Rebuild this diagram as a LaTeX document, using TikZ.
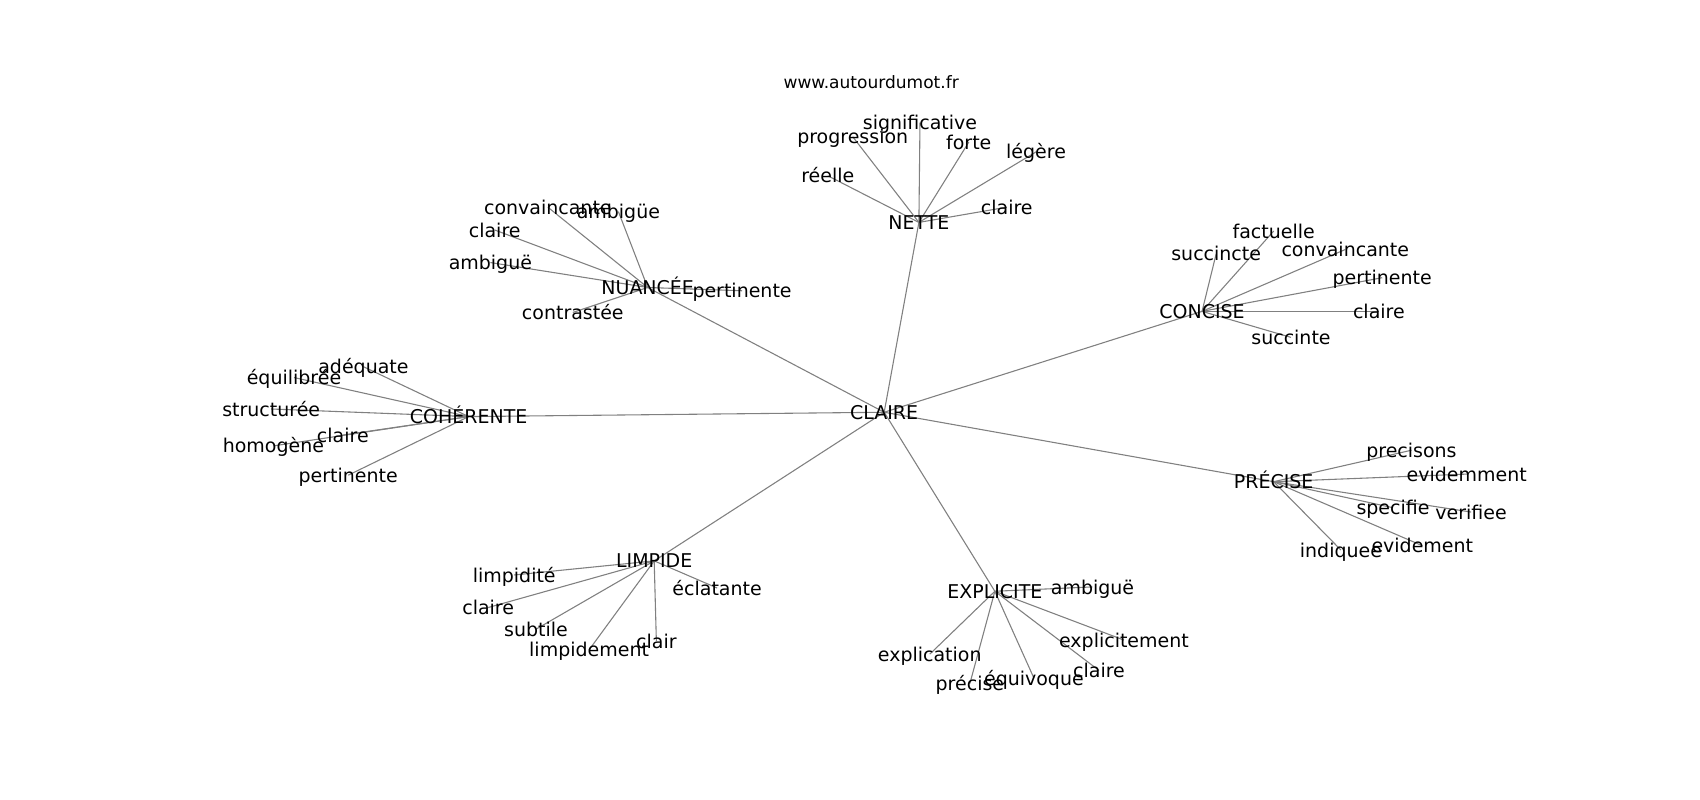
\documentclass[tikz,border=0pt]{standalone}
\usepackage{fontspec}
\setmainfont{DejaVu Sans}
\usetikzlibrary{backgrounds}
\tikzset{
  lbl/.style={inner sep=0pt, outer sep=0pt, anchor=center, text height=7.65pt, text depth=1.1pt, font=\fontsize{8.75}{10}\selectfont, text=black},
  ttl/.style={inner sep=0pt, anchor=center, font=\fontsize{7.85}{9}\selectfont, text=black},
  edge/.style={draw=black!50, line width=0.5pt}
}
\begin{document}
\begin{tikzpicture}[x=0.5pt, y=-0.5pt]
\useasboundingbox (0,0) rectangle (1567,737);
\node[ttl] (title) at (803,76) {www.autourdumot.fr};
% centre
\node[lbl] (c) at (815,380) {CLAIRE};
% NETTE
\node[lbl] (n) at (847,205) {NETTE};
\node[lbl] (n1) at (763,162) {réelle};
\node[lbl] (n2) at (786,126) {progression};
\node[lbl] (n3) at (848,113) {significative};
\node[lbl] (n4) at (893,131) {forte};
\node[lbl] (n5) at (955,140) {légère};
\node[lbl] (n6) at (928,191) {claire};
% NUANCEE
\node[lbl] (u) at (597,265) {NUANCÉE};
\node[lbl] (u1) at (505,191) {convaincante};
\node[lbl] (u2) at (570,195) {ambigüe};
\node[lbl] (u3) at (456,212) {claire};
\node[lbl] (u4) at (452,242) {ambiguë};
\node[lbl] (u5) at (684,268) {pertinente};
\node[lbl] (u6) at (528,288) {contrastée};
% CONCISE
\node[lbl] (k) at (1108,287) {CONCISE};
\node[lbl] (k1) at (1174,213) {factuelle};
\node[lbl] (k2) at (1121,234) {succincte};
\node[lbl] (k3) at (1240,230) {convaincante};
\node[lbl] (k4) at (1274,256) {pertinente};
\node[lbl] (k5) at (1271,287) {claire};
\node[lbl] (k6) at (1190,311) {succinte};
% COHERENTE
\node[lbl] (h) at (432,384) {COHÉRENTE};
\node[lbl] (h1) at (335,338) {adéquate};
\node[lbl] (h2) at (271,348) {équilibrée};
\node[lbl] (h3) at (250,377) {structurée};
\node[lbl] (h4) at (316,401) {claire};
\node[lbl] (h5) at (252,411) {homogène};
\node[lbl] (h6) at (321,438) {pertinente};
% PRECISE
\node[lbl] (p) at (1174,444) {PRÉCISE};
\node[lbl] (p1) at (1301,415) {precisons};
\node[lbl] (p2) at (1352,437) {evidemment};
\node[lbl] (p3) at (1284,468) {specifie};
\node[lbl] (p4) at (1356,472) {verifiee};
\node[lbl] (p5) at (1311,503) {evidement};
\node[lbl] (p6) at (1236,507) {indiquee};
% LIMPIDE
\node[lbl] (l) at (603,517) {LIMPIDE};
\node[lbl] (l1) at (474,530) {limpidité};
\node[lbl] (l2) at (450,560) {claire};
\node[lbl] (l3) at (494,580) {subtile};
\node[lbl] (l4) at (543,599) {limpidement};
\node[lbl] (l5) at (605,591) {clair};
\node[lbl] (l6) at (661,542) {éclatante};
% EXPLICITE
\node[lbl] (e) at (917,545) {EXPLICITE};
\node[lbl] (e1) at (1007,541) {ambiguë};
\node[lbl] (e2) at (857,603) {explication};
\node[lbl] (e3) at (894,630) {précise};
\node[lbl] (e4) at (953,625) {équivoque};
\node[lbl] (e5) at (1036,590) {explicitement};
\node[lbl] (e6) at (1013,618) {claire};
\begin{pgfonlayer}{background}
\foreach \hub in {n,u,k,h,p,l,e}{
  \draw[edge] (c.center) -- (\hub.center);
  \foreach \i in {1,...,6}{
    \draw[edge] (\hub.center) -- (\hub\i.center);
  }
}
\end{pgfonlayer}
\end{tikzpicture}
\end{document}
